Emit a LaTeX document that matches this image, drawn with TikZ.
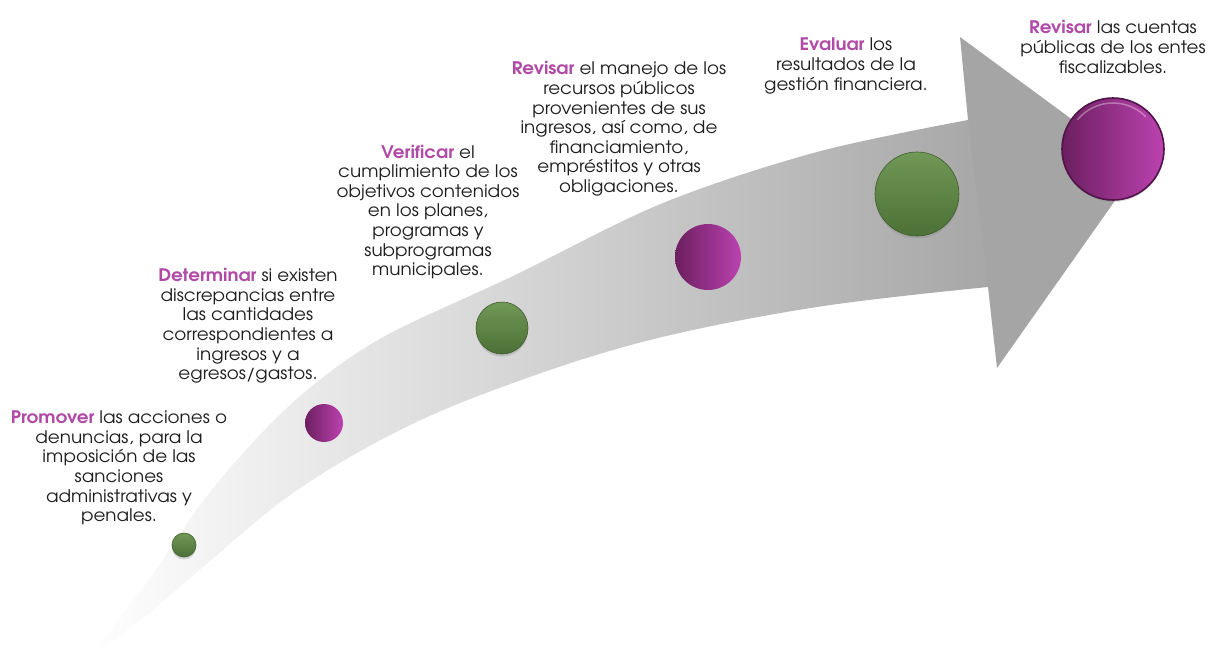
\documentclass[tikz,border=0pt]{standalone}
\usepackage{fontspec}
\setmainfont{texgyreadventor}[Extension=.otf, UprightFont=*-regular, BoldFont=*-bold, ItalicFont=*-italic, BoldItalicFont=*-bolditalic, FakeStretch=1.06]
\usetikzlibrary{shadows}
\definecolor{arrowgray}{RGB}{165,165,165}
\definecolor{kwcol}{RGB}{176,74,166}
\definecolor{txtcol}{RGB}{30,30,30}
\definecolor{gtop}{RGB}{112,152,86}
\definecolor{gmid}{RGB}{86,124,62}
\definecolor{gbot}{RGB}{76,112,54}
\definecolor{grim}{RGB}{62,92,44}
\definecolor{mleft}{RGB}{108,31,96}
\definecolor{mright}{RGB}{188,66,176}
\definecolor{mrim}{RGB}{80,20,72}
\newcommand\keyw[1]{{\bfseries\color{kwcol}#1}}
\tikzset{
  txt/.style={align=center, inner sep=0pt, text=txtcol, font=\fontsize{17.3}{19.6}\selectfont},
  greenball/.style={circle, inner sep=0pt, draw=grim, line width=0.6pt,
    top color=gtop, middle color=gmid, bottom color=gbot,
    drop shadow={opacity=0.3, shadow xshift=0pt, shadow yshift=-2.5pt}},
  magball/.style={circle, inner sep=0pt, left color=mleft, right color=mright},
  bigmag/.style={magball, draw=mrim, line width=1.6pt,
    drop shadow={opacity=0.25, shadow xshift=0pt, shadow yshift=-2pt}}
}
\begin{document}
\begin{tikzpicture}[x=1pt,y=-1pt]
\useasboundingbox (0,0) rectangle (1208,665);
% shaft
\shade[left color=white, right color=arrowgray]
  (87,660) -- plot[smooth, tension=0.55] coordinates {(87,660) (145,585) (200,505) (255,440) (312,386) (385,336) (513,276) (663,203) (817,152) (968,120)}
  -- (1010,118) -- (1010,289) --
  plot[smooth, tension=0.6] coordinates {(988,287) (817,307) (650,340) (513,383) (400,430) (293,493) (203,567) (143,618) (87,660)} -- cycle;
% head
\fill[arrowgray] (960,37) -- (1138,168) -- (997,368) -- (988,287) -- (968,120) -- cycle;
% circles
\node[greenball, minimum size=24pt] (c1) at (184,545) {};
\node[magball, minimum size=38pt] (c2) at (324,423) {};
\node[greenball, minimum size=52pt] (c3) at (502,328) {};
\node[magball, minimum size=66pt] (c4) at (708,257) {};
\node[greenball, minimum size=84pt] (c5) at (917,194) {};
\node[bigmag, minimum size=102pt] (c6) at (1113,149) {};
\draw[white, opacity=0.35, line width=1.5pt, line cap=round]
  ([shift={(-140:46)}]c6.center) arc[start angle=-140, end angle=-45, radius=46];
% texts
\node[txt] (t1) at (119,468) {\keyw{Promover} las acciones o\\denuncias, para la\\imposición de las\\sanciones\\administrativas y\\penales.};
\node[txt] (t2) at (248,326) {\keyw{Determinar} si existen\\discrepancias entre\\las cantidades\\correspondientes a\\ingresos y a\\egresos/gastos.};
\node[txt] (t3) at (428,212) {\keyw{Verificar} el\\cumplimiento de los\\objetivos contenidos\\en los planes,\\programas y\\subprogramas\\municipales.};
\node[txt] (t4) at (619,129) {\keyw{Revisar} el manejo de los\\recursos públicos\\provenientes de sus\\ingresos, así como, de\\financiamiento,\\empréstitos y otras\\obligaciones.};
\node[txt] (t5) at (846,66) {\keyw{Evaluar} los\\resultados de la\\gestión financiera.};
\node[txt] (t6) at (1113,47) {\keyw{Revisar} las cuentas\\públicas de los entes\\fiscalizables.};
\end{tikzpicture}
\end{document}
